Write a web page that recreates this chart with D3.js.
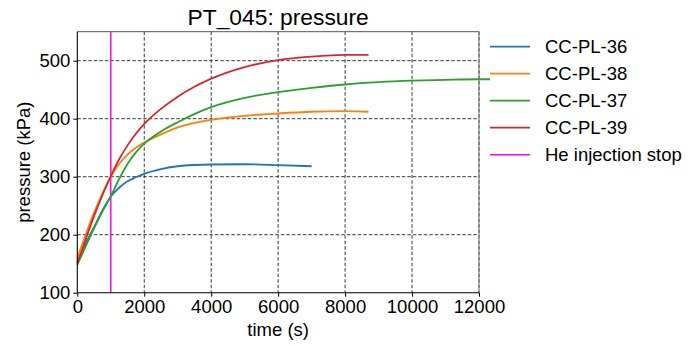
<!DOCTYPE html>
<html><head><meta charset="utf-8">
<script src="https://cdn.jsdelivr.net/npm/d3@7"></script>
<style>
body{margin:0;background:#fff;}
text{font-family:"Liberation Sans",Arial,sans-serif;fill:#000;}
</style></head>
<body><svg id="c" width="689" height="346"></svg>
<script>
const title = "PT_045: pressure";
const xLabel = "time (s)";
const yLabel = "pressure (kPa)";
const xTicks = [0,2000,4000,6000,8000,10000,12000];
const yTicks = [100,200,300,400,500];
const stopTime = 1000;
const stopLabel = "He injection stop";

const t36 = [0,250,500,750,1000,1250,1500,1750,2000,2500,3000,4000,5000,6000,7000];
const v36 = [153,185,213,242,266,281,292,299,305,313,318,321,321.5,320,318];
const t38 = [0,250,500,750,1000,1250,1500,1750,2000,2500,3000,4000,5000,6000,7000,8000,8700];
const v38 = [160,200,238,271,300,322,338,350,359,373,385,398,405,409,412,413,412];
const t37 = [0,250,500,750,1000,1250,1500,1750,2000,2500,3000,4000,5000,6000,7000,8000,9000,10000,11000,12000,12330];
const v37 = [148,180,211,240,266,296,322,342,357,378,394,420,436,446,453,459,463,465.5,467,468,468];
const t39 = [0,250,500,750,1000,1250,1500,1750,2000,2500,3000,3500,4000,5000,6000,7000,8000,8700];
const v39 = [150,192,232,268,301,330,354,374,391,417,438,455,469,489,501,507,510,510];

const seriesNames = ["CC-PL-36","CC-PL-38","CC-PL-37","CC-PL-39"];
const seriesTimes = [t36,t38,t37,t39];
const seriesVals = [v36,v38,v37,v39];
const colors = ["#1f77b4","#ff7f0e","#2ca02c","#d62728"];
const stopColor = "#ff00ff";

const svg = d3.select("#c");
const L=77.3, R=479, T=31.7, B=292.7;
const x = d3.scaleLinear().domain([0,12000]).range([L,R]);
const y = d3.scaleLinear().domain([100,550]).range([B,T]);

// grid
const g = svg.append("g");
g.selectAll("line.gx").data(xTicks.filter(d=>d>0)).enter().append("line")
 .attr("x1",d=>x(d)).attr("x2",d=>x(d)).attr("y1",T).attr("y2",B)
 .attr("stroke","#222").attr("stroke-width",0.9).attr("stroke-dasharray","3.5,2");
g.selectAll("line.gy").data(yTicks.filter(d=>d>100)).enter().append("line")
 .attr("x1",L).attr("x2",R).attr("y1",d=>y(d)).attr("y2",d=>y(d))
 .attr("stroke","#222").attr("stroke-width",0.9).attr("stroke-dasharray","3.5,2");

// spines top/right
svg.append("line").attr("x1",L).attr("x2",R).attr("y1",T).attr("y2",T).attr("stroke","#555").attr("stroke-width",1);
svg.append("line").attr("x1",R).attr("x2",R).attr("y1",T).attr("y2",B).attr("stroke","#777").attr("stroke-width",1);

// stop line
svg.append("line").attr("x1",x(stopTime)).attr("x2",x(stopTime)).attr("y1",y(550)).attr("y2",y(100))
 .attr("stroke",stopColor).attr("stroke-width",1.5);

// series
const line = d3.line().x(d=>x(d[0])).y(d=>y(d[1])).curve(d3.curveMonotoneX);
seriesNames.forEach((n,i)=>{
  const pts = seriesTimes[i].map((t,j)=>[t,seriesVals[i][j]]);
  svg.append("path").attr("d",line(pts)).attr("fill","none")
   .attr("stroke",colors[i]).attr("stroke-width",1.8);
});

// axes
const xa = svg.append("g").attr("transform",`translate(0,${B})`)
 .call(d3.axisBottom(x).tickValues(xTicks).tickFormat(d3.format("d")).tickSizeOuter(0).tickSize(4).tickPadding(3));
const ya = svg.append("g").attr("transform",`translate(${L},0)`)
 .call(d3.axisLeft(y).tickValues(yTicks).tickFormat(d3.format("d")).tickSizeOuter(0).tickSize(4).tickPadding(3));
[xa,ya].forEach(a=>{
  a.select(".domain").attr("stroke","#000").attr("stroke-width",1.1);
  a.selectAll(".tick line").attr("stroke","#000").attr("stroke-width",1);
  a.selectAll("text").attr("font-size","18.5px").attr("font-family","Liberation Sans, Arial, sans-serif").attr("fill","#000");
});
ya.select(".domain").attr("d",`M0,${T}V${B}`);
xa.select(".domain").attr("d",`M${L},0H${R}`);

svg.append("text").attr("x",(L+R)/2).attr("y",25).attr("text-anchor","middle").attr("font-size","22.8px").text(title);
svg.append("text").attr("x",(L+R)/2).attr("y",336).attr("text-anchor","middle").attr("font-size","18.5px").text(xLabel);
svg.append("text").attr("transform",`translate(30,${(T+B)/2}) rotate(-90)`).attr("text-anchor","middle").attr("font-size","18.5px").text(yLabel);

// legend
const legNames = seriesNames.concat([stopLabel]);
const legColors = colors.concat([stopColor]);
legNames.forEach((n,i)=>{
  const yy = 46.7 + i*27;
  svg.append("line").attr("x1",490).attr("x2",530).attr("y1",yy).attr("y2",yy)
   .attr("stroke",legColors[i]).attr("stroke-width",i==4?1.5:1.8);
  svg.append("text").attr("x",545).attr("y",yy+6.6).attr("font-size","18.5px").text(n);
});
</script></body></html>
